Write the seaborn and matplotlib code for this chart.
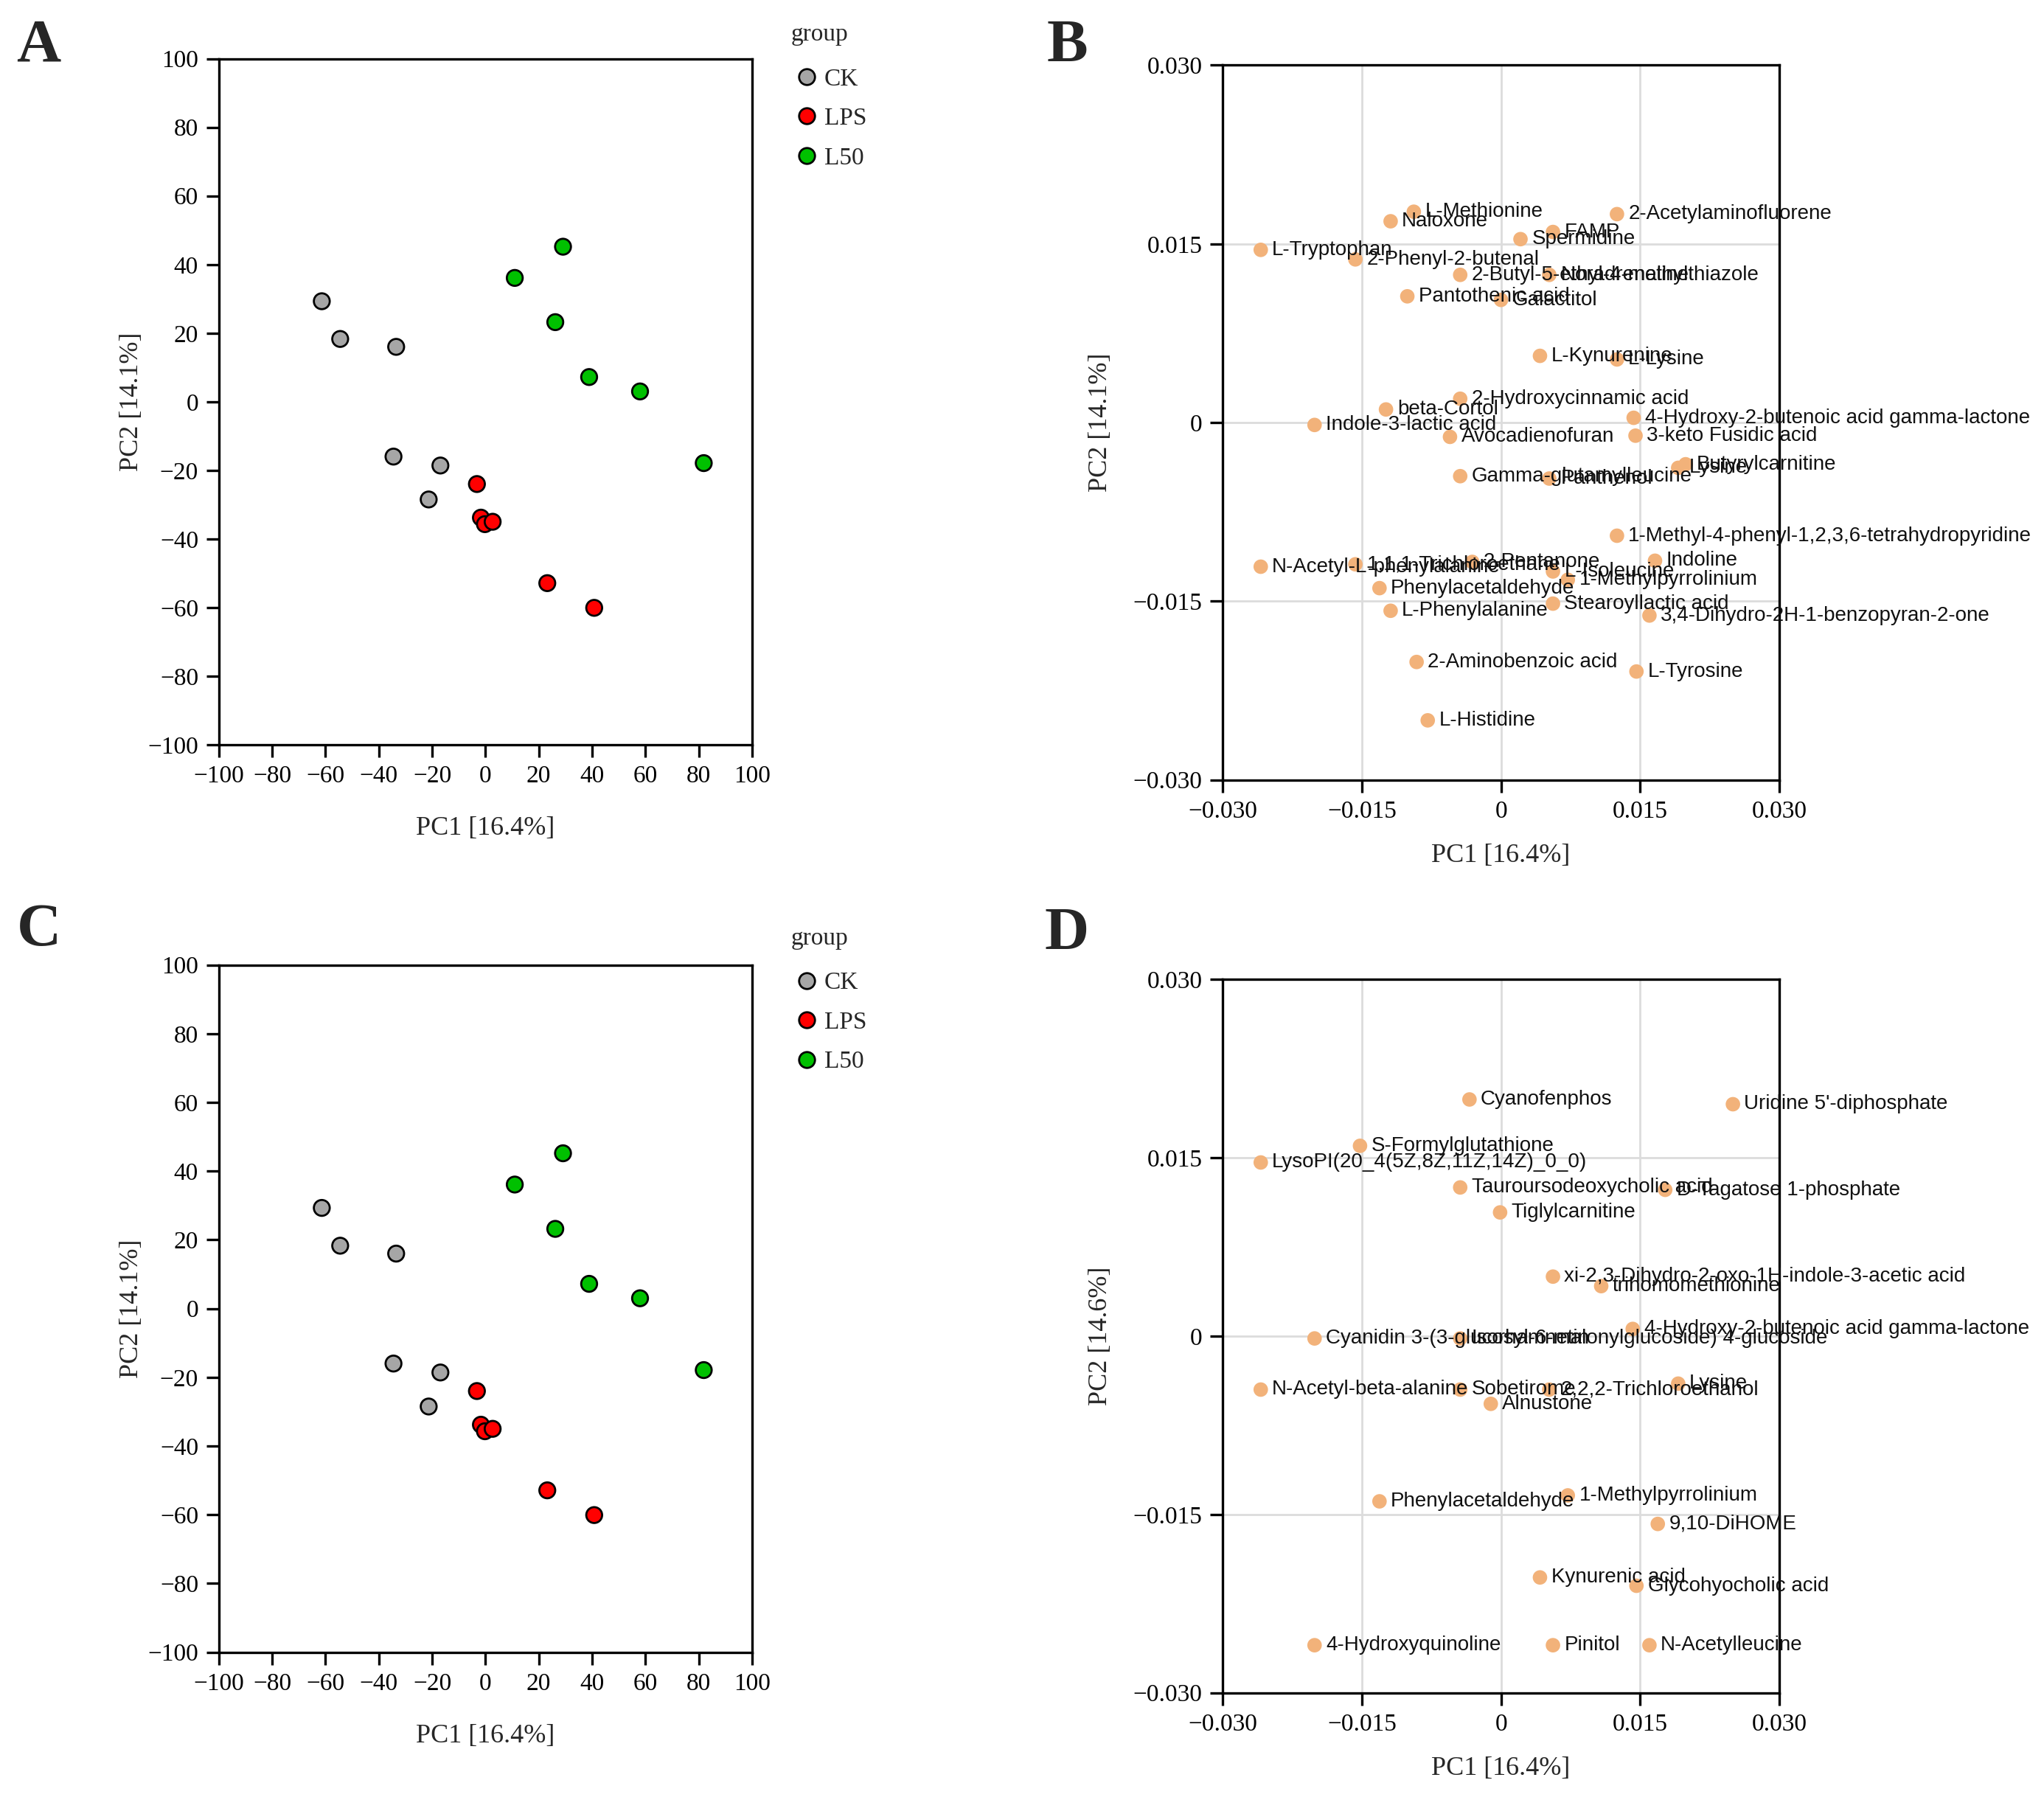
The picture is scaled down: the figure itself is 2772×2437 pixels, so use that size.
import numpy as np
import pandas as pd
import matplotlib
matplotlib.use("Agg")
import matplotlib.pyplot as plt
import seaborn as sns

# ---------------- data ----------------
groups = ["CK"] * 6 + ["LPS"] * 6 + ["L50"] * 6
score_pc1 = [-61.4, -54.5, -33.5, -34.5, -16.9, -21.3,
             -3.2, -1.7, -0.2, 2.7, 23.2, 40.8,
             11.0, 29.1, 26.2, 38.9, 58.0, 81.9]
score_pc2 = [29.3, 18.3, 16.0, -16.0, -18.6, -28.5,
             -24.0, -33.8, -35.7, -35.0, -52.9, -60.1,
             36.1, 45.2, 23.2, 7.2, 3.0, -17.9]
group_order = ["CK", "LPS", "L50"]
group_colors = ["#A6A6A6", "#FF0000", "#00C000"]
score_ticks = [-100, -80, -60, -40, -20, 0, 20, 40, 60, 80, 100]

b_names = ["L-Methionine", "Naloxone", "2-Acetylaminofluorene", "FAMP", "Spermidine",
           "L-Tryptophan", "2-Phenyl-2-butenal", "2-Butyl-5-ethyl-4-methylthiazole",
           "Noradrenaline", "Pantothenic acid", "Galactitol", "L-Kynurenine", "L-Lysine",
           "2-Hydroxycinnamic acid", "beta-Cortol", "4-Hydroxy-2-butenoic acid gamma-lactone",
           "Indole-3-lactic acid", "3-keto Fusidic acid", "Avocadienofuran",
           "Butyrylcarnitine", "Lysine", "Gamma-glutamylleucine", "Panthenol",
           "1-Methyl-4-phenyl-1,2,3,6-tetrahydropyridine", "Indoline",
           "N-Acetyl-L-phenylalanine", "1,1,1-Trichloroethane", "2-Pentanone",
           "L-Isoleucine", "1-Methylpyrrolinium", "Phenylacetaldehyde",
           "Stearoyllactic acid", "L-Phenylalanine", "3,4-Dihydro-2H-1-benzopyran-2-one",
           "2-Aminobenzoic acid", "L-Tyrosine", "L-Histidine"]
b_pc1 = [-0.0094, -0.0119, 0.0125, 0.0056, 0.0021,
         -0.0259, -0.0157, -0.0044,
         0.0052, -0.0101, 0.0000, 0.0042, 0.0125,
         -0.0044, -0.0124, 0.0143,
         -0.0201, 0.0145, -0.0055,
         0.0199, 0.0191, -0.0044, 0.0052,
         0.0125, 0.0166,
         -0.0259, -0.0157, -0.0031,
         0.0056, 0.0072, -0.0131,
         0.0056, -0.0119, 0.0160,
         -0.0091, 0.0146, -0.0079]
b_pc2 = [0.0177, 0.0169, 0.0175, 0.0160, 0.0154,
         0.0145, 0.0137, 0.0124,
         0.0124, 0.0106, 0.0103, 0.0056, 0.0053,
         0.0020, 0.0011, 0.0004,
         -0.0002, -0.0011, -0.0012,
         -0.0035, -0.0038, -0.0045, -0.0047,
         -0.0095, -0.0116,
         -0.0121, -0.0119, -0.0117,
         -0.0125, -0.0132, -0.0139,
         -0.0152, -0.0158, -0.0162,
         -0.0201, -0.0209, -0.0250]

d_names = ["Cyanofenphos", "Uridine 5'-diphosphate", "S-Formylglutathione",
           "LysoPI(20_4(5Z,8Z,11Z,14Z)_0_0)", "Tauroursodeoxycholic acid",
           "D-Tagatose 1-phosphate", "Tiglylcarnitine",
           "xi-2,3-Dihydro-2-oxo-1H-indole-3-acetic acid", "trihomomethionine",
           "4-Hydroxy-2-butenoic acid gamma-lactone",
           "Cyanidin 3-(3-glucosyl-6-malonylglucoside) 4-glucoside", "Isorhamnetin",
           "N-Acetyl-beta-alanine", "Sobetirome", "2,2,2-Trichloroethanol", "Lysine",
           "Alnustone", "1-Methylpyrrolinium", "Phenylacetaldehyde", "9,10-DiHOME",
           "Kynurenic acid", "Glycohyocholic acid", "4-Hydroxyquinoline", "Pinitol",
           "N-Acetylleucine"]
d_pc1 = [-0.0034, 0.0250, -0.0152,
         -0.0259, -0.0044,
         0.0177, -0.0001,
         0.0056, 0.0108,
         0.0142,
         -0.0201, -0.0044,
         -0.0259, -0.0044, 0.0052, 0.0191,
         -0.0011, 0.0072, -0.0131, 0.0169,
         0.0042, 0.0146, -0.0201, 0.0056,
         0.0160]
d_pc2 = [0.0199, 0.0195, 0.0160,
         0.0146, 0.0125,
         0.0123, 0.0104,
         0.0050, 0.0042,
         0.0006,
         -0.0002, -0.0002,
         -0.0045, -0.0045, -0.0045, -0.0040,
         -0.0057, -0.0134, -0.0139, -0.0158,
         -0.0203, -0.0210, -0.0260, -0.0260,
         -0.0260]
load_ticks = [-0.030, -0.015, 0.0, 0.015, 0.030]
load_ticklabels = ["\u22120.030", "\u22120.015", "0", "0.015", "0.030"]

# ---------------- style ----------------
sns.set_style("ticks")
plt.rcParams["font.family"] = ["Liberation Serif", "DejaVu Serif"]
plt.rcParams["axes.linewidth"] = 1.2
SANS = ["Liberation Sans", "DejaVu Sans"]
TICK_FS = 12
LAB_FS = 13

fig = plt.figure(figsize=(13.86, 12.185), dpi=200)

scores = pd.DataFrame({"PC1": score_pc1, "PC2": score_pc2, "group": groups})


def style_axes(ax):
    for s in ax.spines.values():
        s.set_visible(True)
        s.set_color("black")
        s.set_linewidth(1.2)
    ax.tick_params(axis="both", direction="out", length=6, width=1.2,
                   pad=4, labelsize=TICK_FS, colors="black",
                   top=False, right=False)


def draw_scores(ax, legend_anchor):
    sns.scatterplot(data=scores, x="PC1", y="PC2", hue="group",
                    hue_order=group_order, palette=group_colors,
                    s=60, edgecolor="black", linewidth=1.0, ax=ax, zorder=3)
    ax.set_xlim(-100, 100)
    ax.set_ylim(-100, 100)
    ax.set_xticks(score_ticks)
    ax.set_yticks(score_ticks)
    style_axes(ax)
    ax.grid(False)
    ax.set_xlabel("PC1 [16.4%]", fontsize=LAB_FS, labelpad=14)
    ax.set_ylabel("PC2 [14.1%]", fontsize=LAB_FS, labelpad=2)
    sns.move_legend(ax, "upper left", bbox_to_anchor=legend_anchor,
                    bbox_transform=fig.transFigure, frameon=False,
                    title="group", fontsize=12, title_fontsize=12,
                    alignment="left", borderpad=0, handlelength=1.3,
                    handletextpad=0.05, labelspacing=0.69)
    leg = ax.get_legend()
    leg._legend_box.sep = 10.9


def draw_loadings(ax, names, xs, ys, ylabel):
    df = pd.DataFrame({"PC1": xs, "PC2": ys, "name": names})
    sns.scatterplot(data=df, x="PC1", y="PC2", color="#F2B27A",
                    s=50, edgecolor="none", ax=ax, zorder=3)
    for nm, x, y in zip(df["name"], df["PC1"], df["PC2"]):
        ax.annotate(nm, (x, y), xytext=(5.5, 0), textcoords="offset points",
                    va="center", ha="left", fontsize=10, family=SANS,
                    color="#111111", annotation_clip=False, zorder=4)
    ax.set_xlim(-0.030, 0.030)
    ax.set_ylim(-0.030, 0.030)
    ax.set_xticks(load_ticks)
    ax.set_xticklabels(load_ticklabels)
    ax.set_yticks(load_ticks)
    ax.set_yticklabels(load_ticklabels)
    style_axes(ax)
    ax.grid(True, color="#DCDCDC", linewidth=1.0)
    ax.set_axisbelow(True)
    ax.set_xlabel("PC1 [16.4%]", fontsize=LAB_FS, labelpad=10)
    ax.set_ylabel(ylabel, fontsize=LAB_FS, labelpad=10)


axA = fig.add_axes([0.1071, 0.5856, 0.2608, 0.3817])
axB = fig.add_axes([0.5982, 0.5660, 0.2723, 0.3977])
axC = fig.add_axes([0.1071, 0.0806, 0.2608, 0.3824])
axD = fig.add_axes([0.5982, 0.0580, 0.2723, 0.3970])

draw_scores(axA, (0.381, 0.994))
draw_loadings(axB, b_names, b_pc1, b_pc2, "PC2 [14.1%]")
draw_scores(axC, (0.381, 0.491))
draw_loadings(axD, d_names, d_pc1, d_pc2, "PC2 [14.6%]")

for letter, x, y in [("A", 0.019, 0.974), ("B", 0.522, 0.974),
                     ("C", 0.019, 0.482), ("D", 0.522, 0.480)]:
    fig.text(x, y, letter, fontsize=30, fontweight="bold", ha="center",
             va="center", family=["Liberation Serif", "DejaVu Serif"])

fig.savefig("out.png", dpi=200)
